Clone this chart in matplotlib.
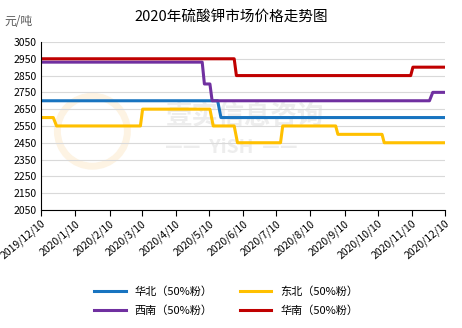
import numpy as np
import matplotlib.pyplot as plt
from matplotlib.patches import Ellipse
from datetime import date

plt.rcParams['font.family'] = ['Noto Sans CJK SC', 'DejaVu Sans']

# data (date, price in 元/吨)
huabei_dates = ["2019-12-10", "2020-05-18", "2020-05-21", "2020-12-10"]
huabei_vals = [2700, 2700, 2600, 2600]

dongbei_dates = ["2019-12-10", "2019-12-21", "2019-12-24", "2020-03-09", "2020-03-11",
                 "2020-05-11", "2020-05-14", "2020-06-02", "2020-06-05", "2020-07-14",
                 "2020-07-16", "2020-09-02", "2020-09-04", "2020-10-14", "2020-10-16",
                 "2020-12-10"]
dongbei_vals = [2600, 2600, 2550, 2550, 2650, 2650, 2550, 2550, 2450, 2450,
                2550, 2550, 2500, 2500, 2450, 2450]

xinan_dates = ["2019-12-10", "2020-05-04", "2020-05-06", "2020-05-11", "2020-05-13",
               "2020-11-26", "2020-11-29", "2020-12-10"]
xinan_vals = [2930, 2930, 2800, 2800, 2700, 2700, 2750, 2750]

huanan_dates = ["2019-12-10", "2020-06-02", "2020-06-04", "2020-11-09", "2020-11-11",
                "2020-12-10"]
huanan_vals = [2950, 2950, 2850, 2850, 2900, 2900]

tick_dates = ["2019-12-10"] + ["2020-%02d-10" % m for m in range(1, 13)]
tick_labels = ["2019/12/10"] + ["2020/%d/10" % m for m in range(1, 13)]

series = [
    ("华北（50%粉）", huabei_dates, huabei_vals, "#1874c0"),
    ("东北（50%粉）", dongbei_dates, dongbei_vals, "#ffc000"),
    ("西南（50%粉）", xinan_dates, xinan_vals, "#7030a0"),
    ("华南（50%粉）", huanan_dates, huanan_vals, "#c00000"),
]

def to_dates(lst):
    return [date.fromisoformat(d) for d in lst]

fig = plt.figure(figsize=(4.62, 3.28), dpi=100)
ax = fig.add_axes([0.089, 0.36, 0.874, 0.512])

# watermark (under the lines)
ax.text(0.53, 0.645, "壹实信息咨询", fontsize=19, color="#ededed", ha="center", va="center",
        fontweight="bold", transform=fig.transFigure, zorder=0.5)
ax.text(0.5, 0.55, "——  YiSH  ——", fontsize=14, color="#ededed", ha="center", va="center",
        fontweight="bold", transform=fig.transFigure, zorder=0.5)
ax.add_patch(Ellipse((0.2, 0.6), 70 / 462, 70 / 328, transform=fig.transFigure, fill=False,
                     ec="#fdf3e3", lw=5, zorder=0.5))

lines = {}
for name, d, v, c in series:
    lines[name], = ax.plot(to_dates(d), v, color=c, lw=2.2, label=name)

ax.set_ylim(2050, 3050)
ax.set_yticks(np.arange(2050, 3051, 100))
ax.set_xlim(date(2019, 12, 10), date(2020, 12, 10))
ax.set_xticks(to_dates(tick_dates))
ax.set_xticklabels(tick_labels, rotation=40, ha="right", rotation_mode="anchor", fontsize=7.5)
ax.tick_params(axis="y", length=0, labelsize=7.5, pad=3)
ax.tick_params(axis="x", length=4, direction="out", pad=2)
ax.grid(axis="y", color="#d9d9d9", lw=0.8)
ax.set_axisbelow(True)
for s in ["top", "right"]:
    ax.spines[s].set_visible(False)

fig.text(0.5, 0.945, "2020年硫酸钾市场价格走势图", fontsize=10.5, ha="center", va="center")
fig.text(0.01, 0.935, "元/吨", fontsize=8.5, color="#595959", ha="left", va="center")

# legend: row 1 华北, 东北; row 2 西南, 华南 (ncol fills column-wise)
order = ["华北（50%粉）", "西南（50%粉）", "东北（50%粉）", "华南（50%粉）"]
fig.legend([lines[k] for k in order], order, loc="center", bbox_to_anchor=(0.49, 0.082),
           ncol=2, frameon=False, fontsize=8, handlelength=2.8, columnspacing=2.5,
           labelspacing=0.8)

fig.savefig("out.png", dpi=100)
